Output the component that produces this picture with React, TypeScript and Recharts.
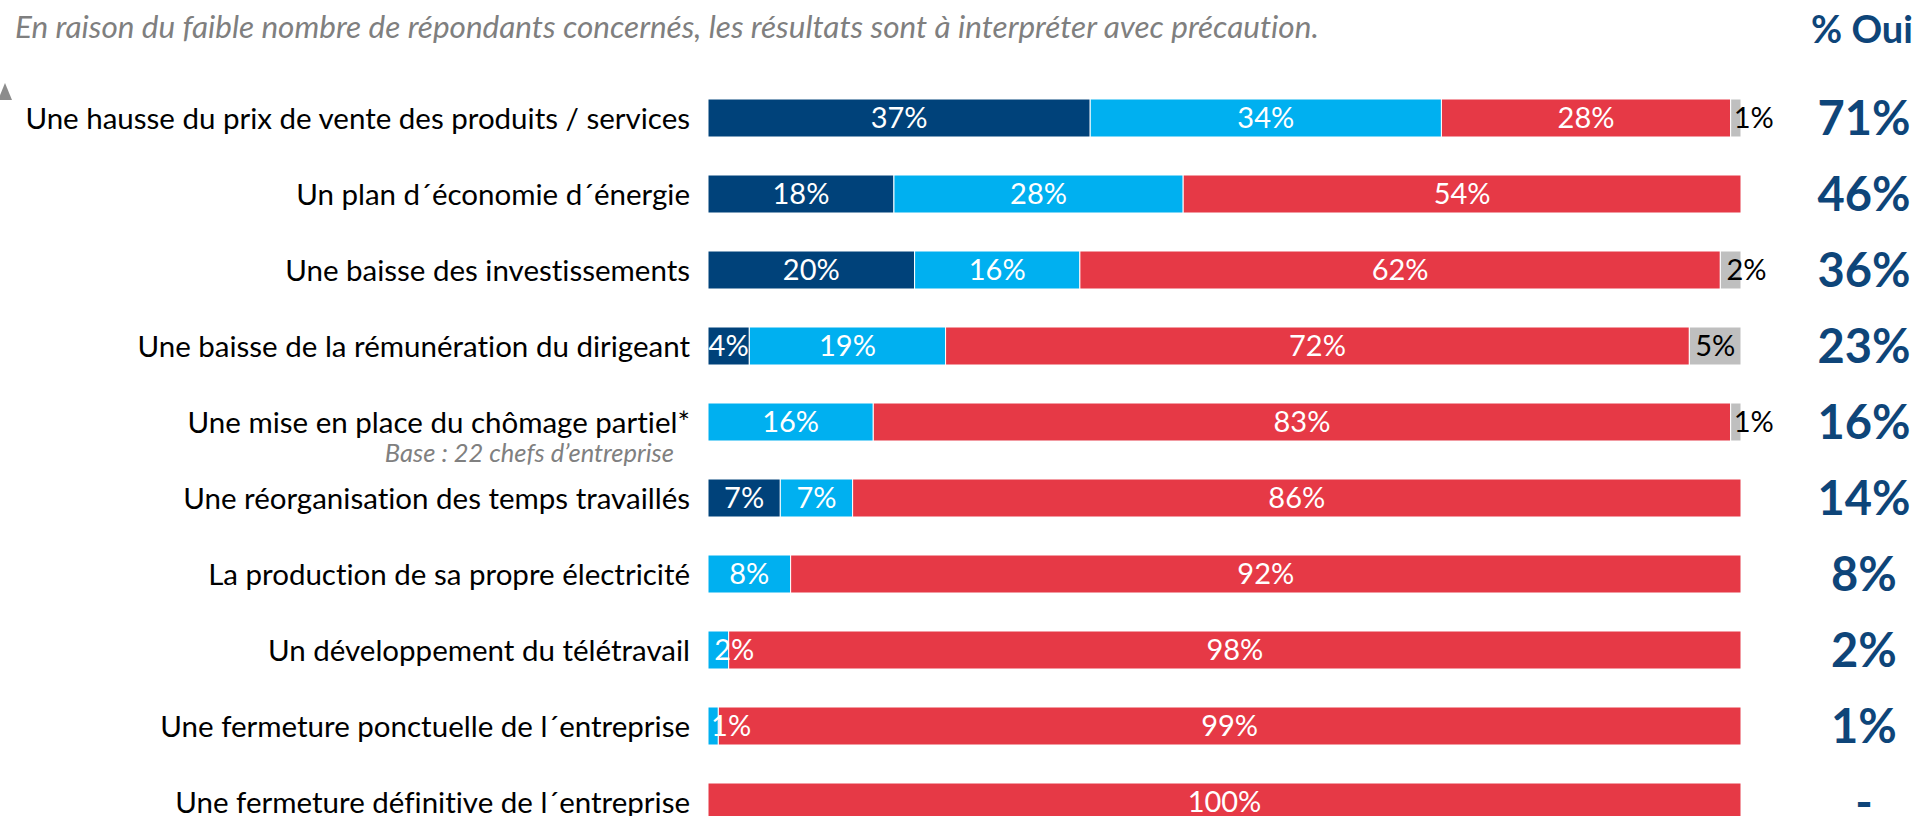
import { Bar, BarChart, LabelList, XAxis, YAxis } from "recharts";

const categories = [
  "Une hausse du prix de vente des produits / services",
  "Un plan d´économie d´énergie",
  "Une baisse des investissements",
  "Une baisse de la rémunération du dirigeant",
  "Une mise en place du chômage partiel*",
  "Une réorganisation des temps travaillés",
  "La production de sa propre électricité",
  "Un développement du télétravail",
  "Une fermeture ponctuelle de l´entreprise",
  "Une fermeture définitive de l´entreprise",
];

const ouiCertainement = [37, 18, 20, 4, 0, 7, 0, 0, 0, 0];
const ouiProbablement = [34, 28, 16, 19, 16, 7, 8, 2, 1, 0];
const non = [28, 54, 62, 72, 83, 86, 92, 98, 99, 100];
const nsp = [1, 0, 2, 5, 1, 0, 0, 0, 0, 0];
const pctOui = ["71%", "46%", "36%", "23%", "16%", "14%", "8%", "2%", "1%", "-"];

const notes: Record<number, string> = { 4: "Base : 22 chefs d’entreprise" };

const FONT = "Lato, 'Open Sans', sans-serif";
const DARK = "#00427A";
const LIGHT = "#00B0F0";
const RED = "#E63946";
const GREY = "#BFBFBF";
const TITLE_BLUE = "#0E4579";
const noLig = { fontVariantLigatures: "none" as const };

const data = categories.map((cat, i) => ({
  cat,
  c1: ouiCertainement[i],
  c2: ouiProbablement[i],
  c3: non[i],
  c4: nsp[i],
}));

function segmentLabel(color: string) {
  return (props: any) => {
    const { x, y, width, height, value } = props;
    if (!value) return null;
    const text = `${value}%`;
    const fs = 29;
    const est = text.length * fs * 0.52;
    const fits = est <= width - 2;
    return (
      <text
        x={fits ? x + width / 2 : x + width * 0.3}
        y={y + height / 2}
        dy="0.36em"
        textAnchor={fits ? "middle" : "start"}
        fill={color}
        fontFamily={FONT}
        fontSize={fs}
      >
        {text}
      </text>
    );
  };
}

function CategoryTick(props: any) {
  const { x, y, payload, index } = props;
  const note = notes[index];
  return (
    <g>
      <text x={x - 10} y={y} dy="0.36em" textAnchor="end" fill="#000" fontFamily={FONT} fontSize={29.5} style={noLig}>
        {payload.value}
      </text>
      {note && (
        <text
          x={x - 26}
          y={y + 31}
          dy="0.36em"
          textAnchor="end"
          fill="#808080"
          fontFamily={FONT}
          fontStyle="italic"
          fontSize={25.5}
          style={noLig}
        >
          {note}
        </text>
      )}
    </g>
  );
}

function OuiTick(props: any) {
  const { x, y, index } = props;
  return (
    <text
      x={x + 115}
      y={y}
      dy="0.36em"
      textAnchor="middle"
      fill={TITLE_BLUE}
      fontFamily={FONT}
      fontWeight={700}
      fontSize={47}
    >
      {pctOui[index]}
    </text>
  );
}

export default function App() {
  return (
    <div style={{ position: "relative", width: 1921, height: 816, overflow: "hidden", background: "#fff" }}>
      <style>{"html,body{margin:0;padding:0;overflow:hidden;}"}</style>
      <div
        style={{
          position: "absolute",
          left: 15,
          top: 7,
          fontFamily: FONT,
          fontStyle: "italic",
          fontSize: 31.5,
          color: "#7F7F7F",
          whiteSpace: "nowrap",
          ...noLig,
        }}
      >
        En raison du faible nombre de répondants concernés, les résultats sont à interpréter avec précaution.
      </div>
      <div
        style={{
          position: "absolute",
          left: 1811,
          top: 5,
          fontFamily: FONT,
          fontWeight: 700,
          fontSize: 38,
          color: TITLE_BLUE,
          whiteSpace: "nowrap",
        }}
      >
        % Oui
      </div>
      <svg width={14} height={22} style={{ position: "absolute", left: 0, top: 82 }}>
        <polygon points="5,1 12,18 -2,18" fill="#8C8C8C" />
      </svg>
      <div style={{ position: "absolute", left: 0, top: 0 }}>
        <BarChart
          width={1921}
          height={850}
          data={data}
          layout="vertical"
          margin={{ top: 80, right: 0, bottom: 10, left: 0 }}
          barSize={38}
        >
          <XAxis type="number" domain={[0, 100]} hide />
          <YAxis
            yAxisId="left"
            type="category"
            dataKey="cat"
            width={708}
            axisLine={false}
            tickLine={false}
            tick={<CategoryTick />}
            interval={0}
          />
          <YAxis
            yAxisId="right"
            orientation="right"
            type="category"
            dataKey="cat"
            width={180}
            axisLine={false}
            tickLine={false}
            tick={<OuiTick />}
            interval={0}
          />
          <Bar yAxisId="left" dataKey="c1" stackId="s" fill={DARK} stroke="#fff" strokeWidth={1} isAnimationActive={false}>
            <LabelList dataKey="c1" content={segmentLabel("#fff")} />
          </Bar>
          <Bar yAxisId="left" dataKey="c2" stackId="s" fill={LIGHT} stroke="#fff" strokeWidth={1} isAnimationActive={false}>
            <LabelList dataKey="c2" content={segmentLabel("#fff")} />
          </Bar>
          <Bar yAxisId="left" dataKey="c3" stackId="s" fill={RED} stroke="#fff" strokeWidth={1} isAnimationActive={false}>
            <LabelList dataKey="c3" content={segmentLabel("#fff")} />
          </Bar>
          <Bar yAxisId="left" dataKey="c4" stackId="s" fill={GREY} stroke="#fff" strokeWidth={1} isAnimationActive={false}>
            <LabelList dataKey="c4" content={segmentLabel("#000")} />
          </Bar>
        </BarChart>
      </div>
    </div>
  );
}
